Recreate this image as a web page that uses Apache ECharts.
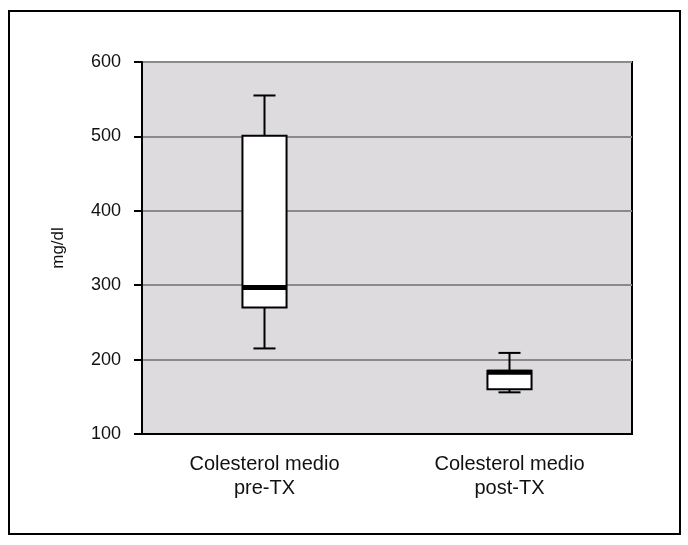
<!DOCTYPE html>
<html><head><meta charset="utf-8">
<script src="https://cdn.jsdelivr.net/npm/echarts@6/dist/echarts.min.js"></script>
<style>html,body{margin:0;padding:0;background:#fff}#c{width:688px;height:545px}</style>
</head><body><div id="c"></div>
<script>
const categories = ['Colesterol medio\npre-TX', 'Colesterol medio\npost-TX'];
const whiskerLow = [215, 156];
const q1 = [270, 160];
const median = [297, 183];
const q3 = [501, 185];
const whiskerHigh = [555, 209];
const yTicks = [100, 200, 300, 400, 500, 600];

const boxData = categories.map((c, i) => [i, whiskerLow[i], q1[i], median[i], q3[i], whiskerHigh[i]]);

const chart = echarts.init(document.getElementById('c'));
const font = 'Liberation Sans, Arial, Helvetica, sans-serif';
chart.setOption({
  animation: false,
  backgroundColor: '#fff',
  graphic: [{
    type: 'rect', shape: {x: 9, y: 11, width: 671, height: 523},
    style: {fill: 'none', stroke: '#000', lineWidth: 2}, z: -10
  }],
  grid: {left: 142, top: 62, right: 56, bottom: 111, show: true,
    backgroundColor: '#dddbde', borderColor: '#000', borderWidth: 2},
  xAxis: {
    type: 'category', data: categories, boundaryGap: true,
    axisLine: {lineStyle: {color: '#000', width: 2}},
    axisTick: {alignWithLabel: true, length: 8, lineStyle: {color: '#000', width: 2}},
    axisLabel: {color: '#111', fontFamily: font, fontSize: 20, lineHeight: 24, margin: 18}
  },
  yAxis: {
    type: 'value', min: yTicks[0], max: yTicks[yTicks.length - 1], interval: 100,
    name: 'mg/dl', nameLocation: 'middle', nameGap: 75,
    nameTextStyle: {color: '#111', fontFamily: font, fontSize: 17},
    axisLine: {show: true, lineStyle: {color: '#000', width: 2}},
    axisTick: {show: true, length: 8, lineStyle: {color: '#000', width: 2}},
    axisLabel: {color: '#111', fontFamily: font, fontSize: 18, margin: 21},
    splitLine: {show: true, lineStyle: {color: '#8a8a8a', width: 2}}
  },
  series: [{
    type: 'custom',
    data: boxData,
    encode: {x: 0, y: [1, 2, 3, 4, 5]},
    renderItem: function (params, api) {
      const idx = api.value(0);
      const bw = api.size([1, 0])[0];
      const half = bw * 0.09;
      const cap = bw * 0.045;
      const pLow = api.coord([idx, api.value(1)]);
      const pQ1 = api.coord([idx, api.value(2)]);
      const pMed = api.coord([idx, api.value(3)]);
      const pQ3 = api.coord([idx, api.value(4)]);
      const pHigh = api.coord([idx, api.value(5)]);
      const x = pMed[0];
      const ls = {stroke: '#000', lineWidth: 2};
      return {
        type: 'group',
        children: [
          {type: 'line', shape: {x1: x, y1: pQ3[1], x2: x, y2: pHigh[1]}, style: ls},
          {type: 'line', shape: {x1: x, y1: pQ1[1], x2: x, y2: pLow[1]}, style: ls},
          {type: 'line', shape: {x1: x - cap, y1: pHigh[1], x2: x + cap, y2: pHigh[1]}, style: ls},
          {type: 'line', shape: {x1: x - cap, y1: pLow[1], x2: x + cap, y2: pLow[1]}, style: ls},
          {type: 'rect', shape: {x: x - half, y: pQ3[1], width: half * 2, height: pQ1[1] - pQ3[1]},
            style: {fill: '#fff', stroke: '#000', lineWidth: 2}},
          {type: 'line', shape: {x1: x - half, y1: pMed[1], x2: x + half, y2: pMed[1]},
            style: {stroke: '#000', lineWidth: 5}}
        ]
      };
    }
  }]
});
</script></body></html>
